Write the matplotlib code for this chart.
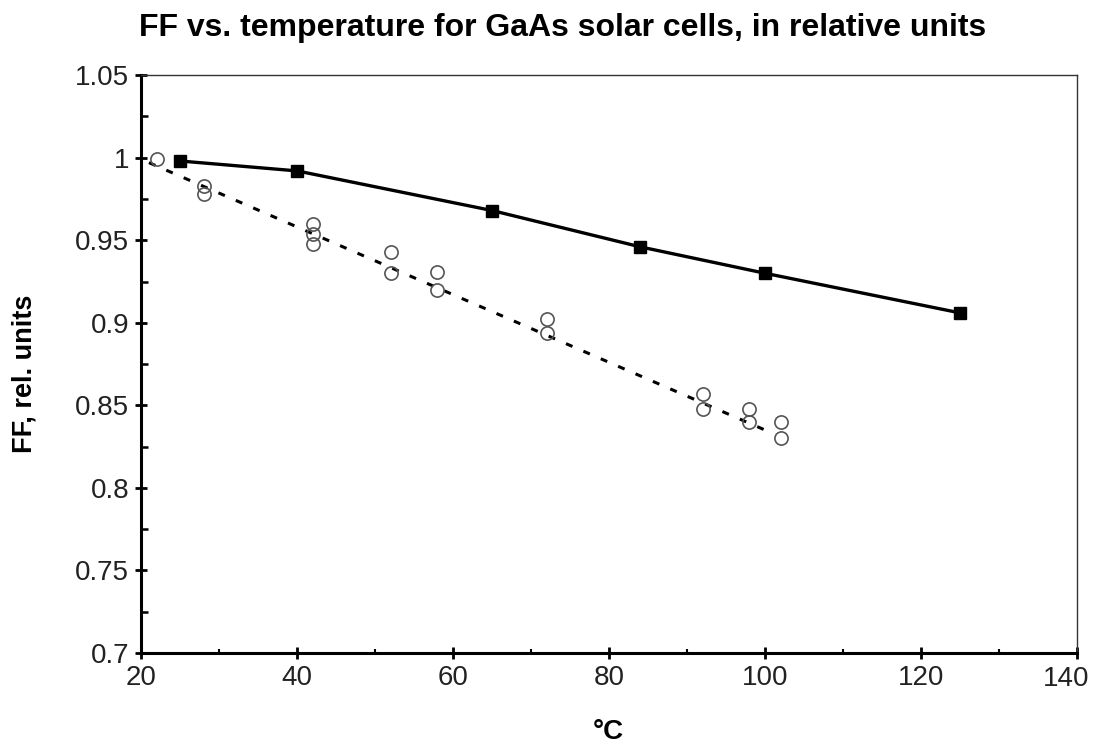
import numpy as np
import matplotlib.pyplot as plt
from matplotlib.ticker import MultipleLocator, FuncFormatter

plt.rcParams['font.family'] = ['Liberation Sans', 'DejaVu Sans']

# ── Data ────────────────────────────────────────────────────────────────────

# FF vs temperature, filled squares (solid line)
temp_a = [25, 40, 65, 84, 100, 125]
ff_a = [0.998, 0.992, 0.968, 0.946, 0.930, 0.906]

# measured cells, open circles
temp_b = [22, 28, 28, 42, 42, 42, 52, 52, 58, 58, 72, 72, 92, 92, 98, 98, 102, 102]
ff_b = [0.999, 0.983, 0.978, 0.960, 0.954, 0.948, 0.943, 0.930, 0.931, 0.920,
        0.902, 0.894, 0.857, 0.848, 0.848, 0.840, 0.840, 0.830]

# linear trend through the circles (dashed)
trend_x = [21, 101]
trend_y = [0.997, 0.833]

X_MAX = 140

# ── Plot ────────────────────────────────────────────────────────────────────

fig = plt.figure(figsize=(10.94, 7.44), dpi=100)
ax = fig.add_axes([0.129, 0.1223, 0.8555, 0.7767])

ax.plot(trend_x, trend_y, color="black", linewidth=2.2,
        linestyle=(0, (2.3, 3.9)), zorder=2)
ax.plot(temp_b, ff_b, linestyle="none", marker="o", markersize=9.5,
        markerfacecolor="none", markeredgecolor="#555555",
        markeredgewidth=1.2, zorder=3)
ax.plot(temp_a, ff_a, color="black", linewidth=2.4, marker="s",
        markersize=9, markerfacecolor="black", markeredgecolor="black",
        zorder=4)

ax.set_xlim(20, X_MAX)
ax.set_ylim(0.7, 1.05)
ax.xaxis.set_major_locator(MultipleLocator(20))
ax.xaxis.set_minor_locator(MultipleLocator(10))
ax.yaxis.set_major_locator(MultipleLocator(0.05))
ax.yaxis.set_minor_locator(MultipleLocator(0.025))
ax.yaxis.set_major_formatter(FuncFormatter(lambda v, p: f"{v:.2f}".rstrip("0").rstrip(".")))
# last x label is drawn separately, nudged left so it stays on the canvas
ax.xaxis.set_major_formatter(FuncFormatter(lambda v, p: "" if v >= X_MAX else f"{v:g}"))
ax.annotate(f"{X_MAX}", xy=(X_MAX, 0.7), xycoords="data",
            xytext=(-8, -9.5), textcoords="offset points",
            ha="center", va="top", fontsize=20, color="#222222")

for side in ("left", "bottom"):
    ax.spines[side].set_linewidth(2.2)
for side in ("top", "right"):
    ax.spines[side].set_linewidth(1.0)
    ax.spines[side].set_color("#333333")

ax.tick_params(which="major", direction="inout", length=9, width=2,
               labelsize=20, colors="black", labelcolor="#222222", pad=4)
ax.tick_params(axis="y", which="minor", direction="in", length=5, width=1.8)
ax.tick_params(axis="x", which="minor", direction="in", length=3, width=1.5)

fig.text(0.514, 0.962, "FF vs. temperature for GaAs solar cells, in relative units",
         ha="center", va="center", fontsize=23, fontweight="bold")
fig.text(0.556, 0.016, "°C", ha="center", va="center",
         fontsize=20, fontweight="bold")
fig.text(0.022, 0.497, "FF, rel. units", ha="center", va="center",
         rotation=90, fontsize=19.5, fontweight="bold")

fig.savefig("out.png", dpi=100)
